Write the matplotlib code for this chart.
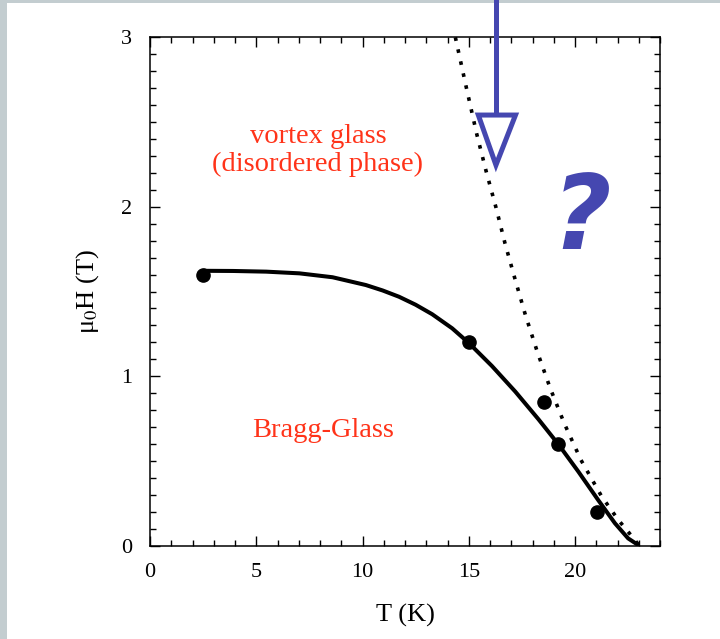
import matplotlib
matplotlib.use("Agg")
import matplotlib.pyplot as plt
from matplotlib.patches import Polygon, Rectangle
from matplotlib.ticker import MultipleLocator

plt.rcParams['font.family'] = ['Liberation Serif', 'DejaVu Serif']
plt.rcParams['mathtext.fontset'] = 'stix'

# Measured transition points
T_points = [2.5, 15.0, 18.52, 19.22, 21.02]
H_points = [1.60, 1.20, 0.85, 0.60, 0.20]

# Bragg-glass boundary (solid line)
T_solid = [2.5, 3.91, 5.47, 7.03, 8.59, 10.16, 10.95, 11.72, 12.5, 13.28, 14.22,
           15.0, 16.09, 17.19, 18.28, 19.22, 20.16, 21.09, 21.88, 22.5, 22.97]
H_solid = [1.622, 1.621, 1.617, 1.607, 1.584, 1.538, 1.506, 1.469, 1.422, 1.366,
           1.283, 1.197, 1.061, 0.910, 0.747, 0.599, 0.438, 0.271, 0.134, 0.045,
           0.006]

# Upper boundary (dotted line)
T_dot = [14.37, 14.87, 15.38, 15.82, 16.28, 16.71, 17.18, 17.67, 18.23, 18.83,
         19.50, 20.28, 21.25, 22.03, 22.54, 23.0]
H_dot = [2.998, 2.711, 2.426, 2.208, 1.996, 1.782, 1.572, 1.360, 1.143, 0.931,
         0.721, 0.507, 0.293, 0.155, 0.078, 0.006]

x_ticks = [0, 5, 10, 15, 20]
y_ticks = [0, 1, 2, 3]

red = '#ff3319'
blue = '#4547b0'

fig = plt.figure(figsize=(7.2, 6.39), dpi=100)
fig.patch.set_facecolor('white')

# slide border strips
fig.add_artist(Rectangle((0, 0), 7 / 720, 1, transform=fig.transFigure,
                         facecolor='#c3cdd0', edgecolor='none', zorder=0))
fig.add_artist(Rectangle((0, 1 - 3 / 639), 1, 3 / 639, transform=fig.transFigure,
                         facecolor='#c3cdd0', edgecolor='none', zorder=0))

ax = fig.add_axes([150 / 720, 1 - 546 / 639, 510 / 720, 509 / 639])
ax.set_xlim(0, 24)
ax.set_ylim(0, 3)
ax.set_xticks(x_ticks)
ax.set_yticks(y_ticks)
ax.xaxis.set_minor_locator(MultipleLocator(1))
ax.yaxis.set_minor_locator(MultipleLocator(0.1))
ax.tick_params(which='both', direction='in', top=True, right=True, width=1.0,
               labelsize=16, colors='black')
ax.tick_params(which='major', length=7)
ax.tick_params(axis='x', which='major', pad=12)
ax.tick_params(axis='y', which='major', pad=13)
ax.tick_params(which='minor', length=4)
for s in ax.spines.values():
    s.set_linewidth(1.1)

ax.set_xlabel('T (K)', fontsize=19, labelpad=16)
ax.set_ylabel(r'μ$_0$H (T)', fontsize=19, labelpad=14)

ax.plot(T_solid, H_solid, color='black', lw=2.9, solid_capstyle='round',
        solid_joinstyle='round', zorder=3)
ax.plot(T_dot, H_dot, color='black', lw=2.6, linestyle=(0, (1, 2.4)),
        dash_capstyle='butt', zorder=3, clip_on=False)
ax.plot(T_points, H_points, 'o', color='black', ms=9.5, zorder=4)

ax.text(7.9, 2.33, 'vortex glass\n(disordered phase)', color=red, fontsize=20.5,
        ha='center', va='center', linespacing=1.12)
ax.text(8.15, 0.68, 'Bragg-Glass', color=red, fontsize=20.5, ha='center', va='center')

# arrow pointing at the upper boundary
arrow_x = 16.28
ax.plot([arrow_x, arrow_x], [2.545, 3.25], color=blue, lw=3.6, clip_on=False,
        solid_capstyle='butt', zorder=5)
tri = Polygon([[15.45, 2.54], [17.2, 2.54], [arrow_x, 2.245]], closed=True,
              facecolor='white', edgecolor=blue, lw=3.6, joinstyle='miter',
              clip_on=False, zorder=5)
ax.add_patch(tri)

ax.text(20.3, 1.92, '?', color=blue, fontsize=74, fontweight='bold',
        family=['DejaVu Sans'], style='oblique', ha='center', va='center', zorder=5)

fig.savefig('out.png', dpi=100, facecolor='white')
